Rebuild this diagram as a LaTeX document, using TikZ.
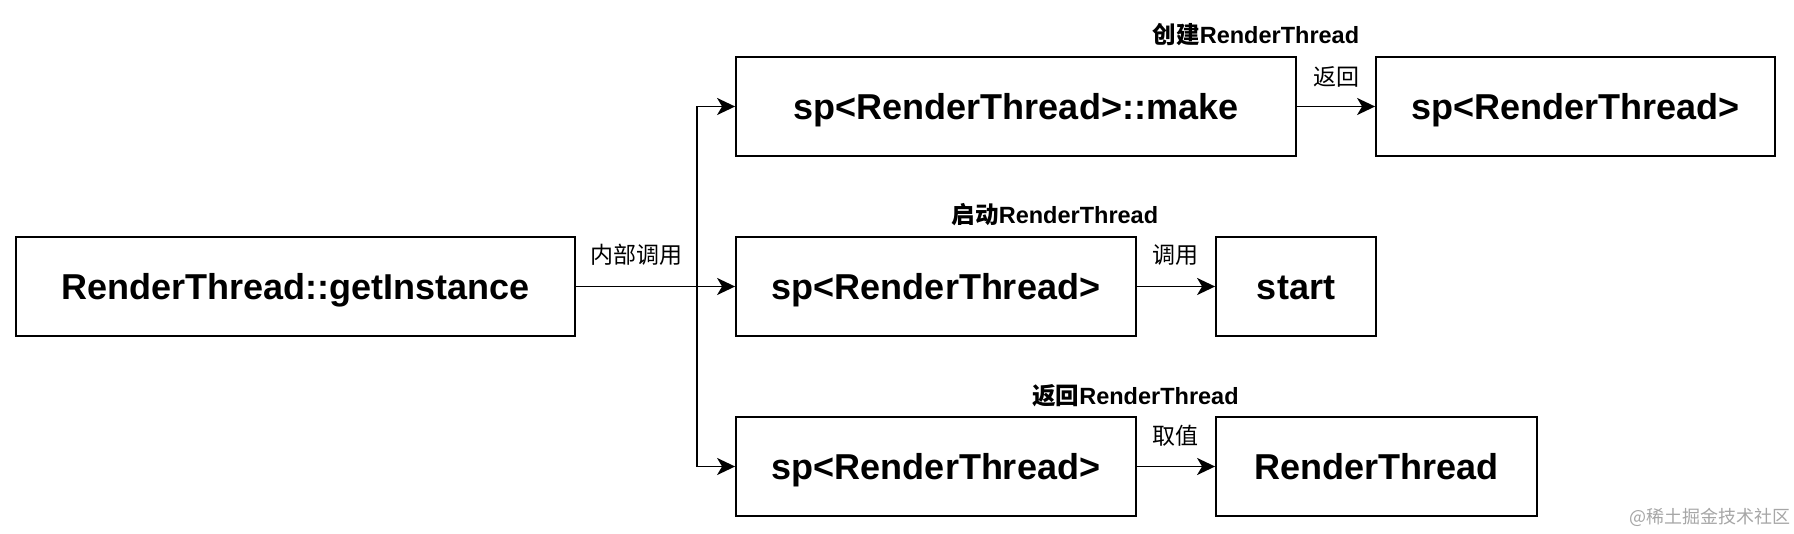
\documentclass[tikz,border=0pt]{standalone}
\usepackage{fontspec}
\setmainfont{Liberation Sans}
\newfontfamily\cjk{Noto Sans CJK SC}
\usetikzlibrary{arrows.meta,positioning}

\begin{document}
\begin{tikzpicture}[x=1pt, y=-1pt, >={Stealth[length=18pt,width=17pt,inset=5pt]},
      line width=1.8pt,
      box/.style={draw, line width=1.8pt, inner sep=0pt, minimum height=99pt,
        text height=26pt, text depth=0pt, font=\fontsize{36}{40}\selectfont\bfseries},
      note/.style={font=\fontsize{23}{26}\selectfont\cjk},
      head/.style={font=\fontsize{23.5}{26}\selectfont\bfseries}]
    \useasboundingbox (0,0) rectangle (1794,534);
    \node (getInstance) [box, minimum width=559pt] at (295.5,286.5) {RenderThread::getInstance};
    \node (make) [box, minimum width=560pt] at (1016,106.5) {sp<RenderThread>::make};
    \node (spMake) [box, minimum width=399pt] at (1575.5,106.5) {sp<RenderThread>};
    \node (spStart) [box, minimum width=400pt] at (936,286.5) {sp<RenderThread>};
    \node (start) [box, minimum width=160pt] at (1296,286.5) {start};
    \node (spGet) [box, minimum width=400pt] at (936,466.5) {sp<RenderThread>};
    \node (thread) [box, minimum width=321pt] at (1376.5,466.5) {RenderThread};
    \coordinate (split) at (697,286.5);
    \draw (getInstance) -- (split);
    \draw[->] (split) |- (make);
    \draw[->] (split) -- (spStart);
    \draw[->] (split) |- (spGet);
    \draw[->] (make) -- (spMake);
    \draw[->] (spStart) -- (start);
    \draw[->] (spGet) -- (thread);
    \node (callLbl) [note] at (636,255) {内部调用};
    \node (backLbl) [note] at (1336,77) {返回};
    \node (useLbl) [note] at (1175,255) {调用};
    \node (valueLbl) [note] at (1175,436) {取值};
    \node (createHead) [head] at (1256,35) {{\cjk 创建}RenderThread};
    \node (startHead) [head] at (1055,215) {{\cjk 启动}RenderThread};
    \node (returnHead) [head] at (1135.5,396) {{\cjk 返回}RenderThread};
    \node (mark) [font=\fontsize{18}{20}\selectfont\cjk, text=black!35] at (1710,517) {@稀土掘金技术社区};
\end{tikzpicture}
\end{document}
